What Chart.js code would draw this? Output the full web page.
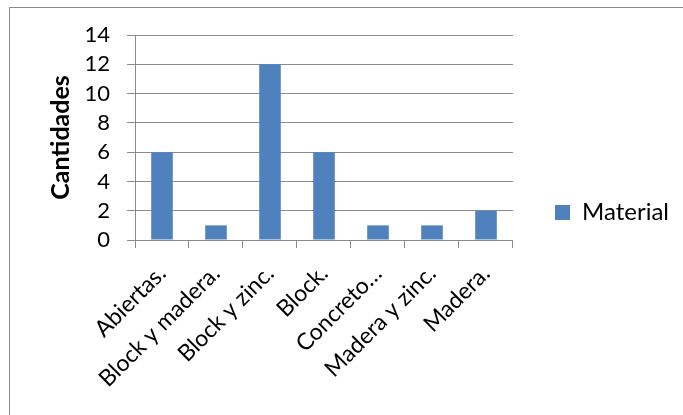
<!DOCTYPE html>
<html>
<head>
<meta charset="utf-8">
<script src="https://cdn.jsdelivr.net/npm/chart.js@4.4.1/dist/chart.umd.min.js"></script>
<style>
  html, body { margin: 0; padding: 0; background: #ffffff; overflow: hidden; }
  #wrap { position: relative; width: 683px; height: 415px; }
  #frame { position: absolute; left: 9px; top: 7px; width: 800px; height: 600px;
           border-left: 1px solid #8c8c8c; border-top: 1px solid #8c8c8c; box-sizing: border-box; }
  canvas { position: absolute; left: 0; top: 0; }
</style>
</head>
<body>
<div id="wrap">
  <div id="frame"></div>
  <canvas id="chart" width="683" height="415"></canvas>
</div>
<script>
// Tipos de material de las viviendas
const categories = ['Abiertas.', 'Block y madera.', 'Block y zinc.', 'Block.', 'Concreto…', 'Madera y zinc.', 'Madera.'];
const materialValues = [6, 1, 12, 6, 1, 1, 2];
const seriesName = 'Material';
const yTicks = [0, 2, 4, 6, 8, 10, 12, 14];

const FONT = 'Lato, "Open Sans", sans-serif';
const GRID = '#8c8c8c';

new Chart(document.getElementById('chart'), {
  type: 'bar',
  data: {
    labels: categories,
    datasets: [{
      label: seriesName,
      data: materialValues,
      backgroundColor: '#4f81bd',
      borderWidth: 0,
      categoryPercentage: 1.0,
      barPercentage: 0.4
    }]
  },
  options: {
    responsive: false,
    animation: false,
    layout: { padding: { top: 35, bottom: 25, left: 0, right: 4 } },
    plugins: {
      tooltip: { enabled: false },
      legend: {
        position: 'right',
        labels: {
          boxWidth: 15,
          boxHeight: 15,
          padding: 42,
          color: '#000000',
          font: { family: FONT, size: 24 }
        }
      }
    },
    scales: {
      x: {
        offset: true,
        grid: { display: true, drawOnChartArea: false, offset: true, tickLength: 8, color: GRID },
        border: { color: GRID },
        ticks: {
          minRotation: 45, maxRotation: 45, autoSkip: false,
          color: '#000000', padding: 12,
          font: { family: FONT, size: 23 }
        },
        afterFit: (s) => { s.height = 150; }
      },
      y: {
        min: 0, max: 14,
        afterBuildTicks: (s) => { s.ticks = yTicks.map(v => ({ value: v })); },
        grid: { color: GRID, tickLength: 8 },
        border: { color: GRID },
        ticks: { color: '#000000', padding: 17, autoSkip: false, font: { family: FONT, size: 22 } },
        title: {
          display: true, text: 'Cantidades', color: '#000000',
          font: { family: FONT, size: 25, weight: 'bold' },
          padding: { top: 46, bottom: 0 }
        },
        afterFit: (s) => { s.width = 135; }
      }
    }
  }
});
</script>
</body>
</html>
